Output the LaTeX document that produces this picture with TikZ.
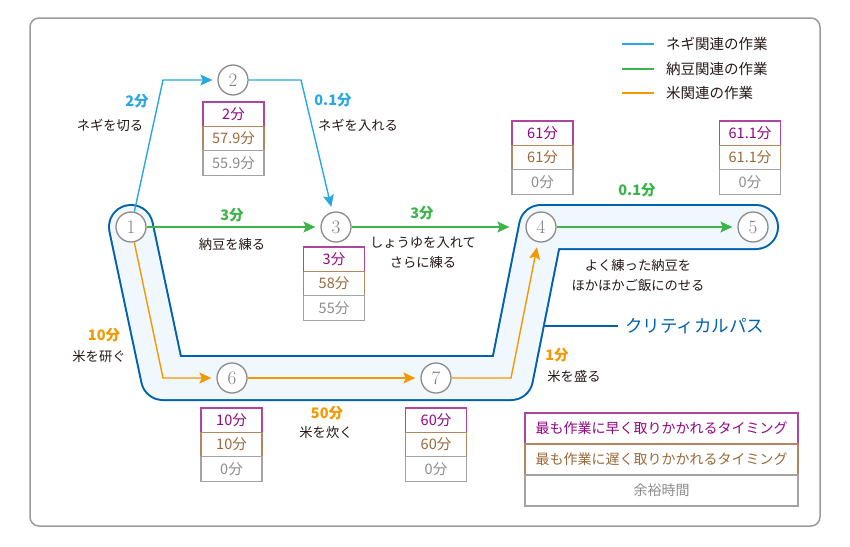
\documentclass[tikz,border=0pt]{standalone}
\usepackage{fontspec}
\newfontfamily\jpfont{Noto Sans CJK JP}
\usetikzlibrary{arrows.meta,positioning}
\definecolor{negiblue}{HTML}{29A8E0}
\definecolor{nattogreen}{HTML}{3CB44A}
\definecolor{komeorange}{HTML}{F39800}
\definecolor{critblue}{HTML}{0061AE}
\definecolor{critfill}{HTML}{F0F8FD}
\definecolor{espurple}{HTML}{920783}
\definecolor{lsbrown}{HTML}{9A6A3A}
\definecolor{slgray}{HTML}{8C8C8C}
\definecolor{framegray}{HTML}{9B9B9B}
\definecolor{txtblack}{HTML}{231815}

\tikzset{
  num/.style={circle,draw=slgray,fill=white,line width=1.3pt,minimum size=30pt,
    inner sep=0pt,text=slgray!90!black,font=\fontsize{19}{19}\selectfont},
  arr/.style={->,line width=1.4pt,shorten >=5pt},
  desc/.style={text=txtblack,font=\jpfont\fontsize{13.3}{20}\selectfont,align=center,inner sep=0pt},
  tm/.style={font=\jpfont\bfseries\fontsize{14.5}{15}\selectfont,inner sep=0pt},
  cell/.style={minimum width=61pt,minimum height=24.4pt,inner sep=0pt,outer sep=0pt,
    line width=1.2pt,fill=white,font=\jpfont\fontsize{14.5}{15}\selectfont},
  es/.style={cell,draw=espurple!75,text=espurple},
  ls/.style={cell,draw=lsbrown!80,text=lsbrown},
  sl/.style={cell,draw=slgray!80,text=slgray},
  keycell/.style={minimum width=273pt,minimum height=31pt,font=\jpfont\fontsize{14}{15}\selectfont},
  keytext/.style={anchor=west,inner sep=0pt,text=txtblack,font=\jpfont\fontsize{14.5}{15}\selectfont},
  band/.style={line cap=round,line join=round}
}

\begin{document}
\begin{tikzpicture}[x=1pt,y=-1pt,>={Stealth[length=12pt,width=11pt,inset=2.5pt]}]
      \useasboundingbox (0,0) rectangle (850,546);
      % frame
      \draw[framegray,line width=1.5pt,rounded corners=9pt] (30,18) rectangle (820,526);

      % positions
      \coordinate (p1) at (131,227);
      \coordinate (p2) at (233,80);
      \coordinate (p3) at (336,227);
      \coordinate (p4) at (541,227);
      \coordinate (p5) at (753,227);
      \coordinate (p6) at (232,378);
      \coordinate (p7) at (436,378);
      \coordinate (c12) at (163,80);
      \coordinate (c23) at (301,80);
      \coordinate (c16) at (163,378);
      \coordinate (c74) at (511,378);
      \coordinate (bandend) at (756,227);

      % critical path band
      \draw[band,critblue,line width=46pt] (p1) -- (c16) -- (c74) -- (p4) -- (bandend);
      \draw[band,critfill,line width=42pt] (p1) -- (c16) -- (c74) -- (p4) -- (bandend);

      % events
      \node[num] (n1) at (p1) {1};
      \node[num] (n2) at (p2) {2};
      \node[num] (n3) at (p3) {3};
      \node[num] (n4) at (p4) {4};
      \node[num] (n5) at (p5) {5};
      \node[num] (n6) at (p6) {6};
      \node[num] (n7) at (p7) {7};

      % activities
      \draw[arr,negiblue] (n1) -- (c12) -- (n2);
      \draw[arr,negiblue] (n2) -- (c23) -- (n3);
      \draw[arr,nattogreen] (n1) -- (n3);
      \draw[arr,nattogreen,shorten >=16pt] (n3) -- (n4);
      \draw[arr,nattogreen] (n4) -- (n5);
      \draw[arr,komeorange] (n1) -- (c16) -- (n6);
      \draw[arr,komeorange] (n6) -- (n7);
      \draw[arr,komeorange] (n7) -- (c74) -- (n4);

      % activity labels
      \node[tm,text=negiblue] (t12) at (137,101) {2分};
      \node[desc] (d12) at (110,125) {ネギを切る};
      \node[tm,text=negiblue] (t23) at (333,100) {0.1分};
      \node[desc] (d23) at (358,125) {ネギを入れる};
      \node[tm,text=nattogreen] (t13) at (232,215) {3分};
      \node[desc] (d13) at (232,244) {納豆を練る};
      \node[tm,text=nattogreen] (t34) at (422,213) {3分};
      \node[desc] (d34) at (423,253) {しょうゆを入れて\\さらに練る};
      \node[tm,text=nattogreen] (t45) at (637,190) {0.1分};
      \node[desc] (d45) at (638,275) {よく練った納豆を\\ほかほかご飯にのせる};
      \node[tm,text=komeorange] (t16) at (104,335) {10分};
      \node[desc] (d16) at (99,356) {米を研ぐ};
      \node[tm,text=komeorange] (t67) at (327,413) {50分};
      \node[desc] (d67) at (326,432) {米を炊く};
      \node[tm,text=komeorange] (t74) at (557,355) {1分};
      \node[desc] (d74) at (574,376) {米を盛る};

      % time boxes
      \node[es,anchor=north] (es2) at (233.5,102) {2分};
      \node[ls,below=0pt of es2] (ls2) {57.9分};
      \node[sl,below=0pt of ls2] (sl2) {55.9分};
      \node[es,anchor=north] (es3) at (334,247) {3分};
      \node[ls,below=0pt of es3] (ls3) {58分};
      \node[sl,below=0pt of ls3] (sl3) {55分};
      \node[es,anchor=north] (es4) at (542.5,121) {61分};
      \node[ls,below=0pt of es4] (ls4) {61分};
      \node[sl,below=0pt of ls4] (sl4) {0分};
      \node[es,anchor=north] (es5) at (750,121) {61.1分};
      \node[ls,below=0pt of es5] (ls5) {61.1分};
      \node[sl,below=0pt of ls5] (sl5) {0分};
      \node[es,anchor=north] (es6) at (231.5,408) {10分};
      \node[ls,below=0pt of es6] (ls6) {10分};
      \node[sl,below=0pt of ls6] (sl6) {0分};
      \node[es,anchor=north] (es7) at (436,408) {60分};
      \node[ls,below=0pt of es7] (ls7) {60分};
      \node[sl,below=0pt of ls7] (sl7) {0分};

      % critical path label
      \node[anchor=west,inner sep=0pt,text=critblue,font=\jpfont\fontsize{17.5}{18}\selectfont] (cp) at (625,326) {クリティカルパス};
      \coordinate (cpend) at (544,326);
      \draw[critblue,line width=1.6pt] (cpend) -- ([xshift=-7pt]cp.west);

      % legend
      \node[keytext] (lg1) at (666,44) {ネギ関連の作業};
      \node[keytext] (lg2) at (666,69) {納豆関連の作業};
      \node[keytext] (lg3) at (666,93) {米関連の作業};
      \draw[negiblue,line width=2.6pt] ([xshift=-44pt]lg1.west) -- ([xshift=-12pt]lg1.west);
      \draw[nattogreen,line width=2.6pt] ([xshift=-44pt]lg2.west) -- ([xshift=-12pt]lg2.west);
      \draw[komeorange,line width=2.6pt] ([xshift=-44pt]lg3.west) -- ([xshift=-12pt]lg3.west);

      \node[es,keycell,anchor=north] (key1) at (661.5,413) {最も作業に早く取りかかれるタイミング};
      \node[ls,keycell,below=0pt of key1] (key2) {最も作業に遅く取りかかれるタイミング};
      \node[sl,keycell,below=0pt of key2] (key3) {余裕時間};
    \end{tikzpicture}
\end{document}
